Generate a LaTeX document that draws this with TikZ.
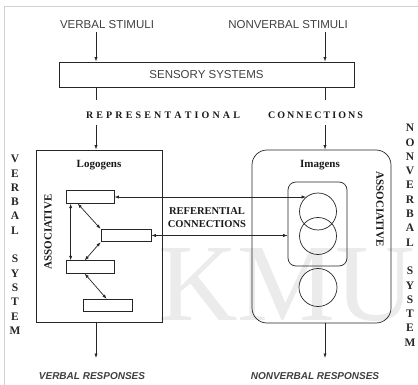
\documentclass[tikz,border=0pt]{standalone}
\usepackage{fontspec}
\setmainfont{Liberation Serif}
\setsansfont{Liberation Sans}
\usetikzlibrary{arrows.meta}
\begin{document}
\begin{tikzpicture}[x=1pt,y=-1pt,
  ln/.style={line width=0.7pt, draw=black!85},
  arr/.style={ln,-{Latex[length=4.5pt,width=3.2pt]}},
  darr/.style={ln,{Latex[length=4.5pt,width=3.2pt]}-{Latex[length=4.5pt,width=3.2pt]}},
  sanstxt/.style={font=\sffamily\fontsize{11.5}{13}\selectfont, text=black!75, inner sep=1pt},
  resp/.style={font=\sffamily\bfseries\itshape\fontsize{10}{12}\selectfont, text=black!75, inner sep=1pt},
  serbold/.style={font=\bfseries\fontsize{10}{12}\selectfont, text=black!90, inner sep=1pt},
  titletxt/.style={font=\bfseries\fontsize{11}{13}\selectfont, text=black!90, inner sep=1pt},
  smallbox/.style={ln, draw, rectangle, inner sep=0pt, minimum width=48pt, minimum height=12.5pt},
  circ/.style={ln, draw, circle, inner sep=0pt, minimum size=37pt},
  vletter/.style={font=\bfseries\fontsize{11.5}{12}\selectfont, text=black!85, inner sep=0pt}
]
\useasboundingbox (0,0) rectangle (418,385);
\fill[white] (0,0) rectangle (418,385);
\draw[black!18, line width=0.9pt] (4,385) -- (4,6) -- (418,6);
% watermark
\node[font=\fontsize{110}{110}\selectfont, text=black!8, anchor=base west, inner sep=0pt] (wm) at (158,320) {KMU};

\coordinate (vx) at (96,0);
\coordinate (nx) at (325,0);

% top texts
\node[sanstxt] (vs) at (107,25) {VERBAL STIMULI};
\node[sanstxt] (nvs) at (288,25) {NONVERBAL STIMULI};
\node[ln, draw, rectangle, minimum width=295pt, minimum height=25pt, inner sep=0pt, sanstxt] (ss) at (206.5,74.5) {SENSORY SYSTEMS};

\draw[arr, shorten <=2pt] (vs.south -| vx) -- (ss.north -| vx);
\draw[arr, shorten <=2pt] (nvs.south -| nx) -- (ss.north -| nx);

\node[serbold] (rep) at (163,115) {\makebox[154pt][s]{R\hfill E\hfill P\hfill R\hfill E\hfill S\hfill E\hfill N\hfill T\hfill A\hfill T\hfill I\hfill O\hfill N\hfill A\hfill L}};
\node[serbold] (con) at (315.5,115) {\makebox[95pt][s]{C\hfill O\hfill N\hfill N\hfill E\hfill C\hfill T\hfill I\hfill O\hfill N\hfill S}};

\coordinate (v1) at (96,100);
\coordinate (v2) at (96,125);
\coordinate (n1) at (325,100);
\coordinate (n2) at (325,125);

% systems
\node[ln, draw, rectangle, minimum width=126pt, minimum height=172pt, inner sep=0pt] (lb) at (99,236) {};
\node[ln, draw, rectangle, rounded corners=15pt, minimum width=139pt, minimum height=173pt, inner sep=0pt] (rb) at (321.5,236.5) {};

\draw[ln] (ss.south -| vx) -- (v1);
\draw[arr] (v2) -- (lb.north -| vx);
\draw[ln] (ss.south -| nx) -- (n1);
\draw[arr] (n2) -- (rb.north -| nx);

\node[titletxt] (logo) at (99,165) {Logogens};
\node[titletxt] (imag) at (320,165) {Imagens};

\node[titletxt, rotate=90] (asl) at (48,232) {ASSOCIATIVE};
\node[titletxt, rotate=-90] (asr) at (380,209) {ASSOCIATIVE};

% logogen boxes
\node[smallbox] (r1) at (90,197) {};
\node[smallbox, minimum width=50pt] (r2) at (126,235.5) {};
\node[smallbox] (r3) at (90,267) {};
\node[smallbox, minimum width=49pt] (r4) at (107.5,305.5) {};

\draw[darr] ([xshift=5pt]r1.south west) -- ([xshift=5pt]r3.north west);
\draw[darr] ([xshift=12pt]r1.south west) -- (r2.north west);
\draw[darr] (r2.south west) -- ([xshift=19pt]r3.north west);
\draw[darr] ([xshift=19pt]r3.south west) -- ([xshift=24pt]r4.north west);

% imagens
\node[ln, draw, rectangle, rounded corners=8pt, minimum width=59pt, minimum height=84pt, inner sep=0pt] (ir) at (317.5,224) {};
\node[circ] (c1) at (318,211.5) {};
\node[circ] (c2) at (318,236) {};
\node[circ, minimum size=38pt] (c3) at (318,287.5) {};

% referential
\draw[darr] (r1.east) -- (r1.east -| c1.129);
\draw[darr] (r2.east) -- (r2.east -| ir.west);
\node[serbold, align=center, font=\bfseries\fontsize{10.5}{13}\selectfont] (ref) at (207,217.5) {REFERENTIAL\\CONNECTIONS};

% bottom
\node[resp] (vr) at (92,376) {VERBAL RESPONSES};
\node[resp] (nvr) at (315,376) {NONVERBAL RESPONSES};
\coordinate (ve) at (96,358);
\coordinate (ne) at (325,358);
\draw[arr] (lb.south -| vx) -- (ve);
\draw[arr] (rb.south -| nx) -- (ne);

% vertical labels
\foreach \l [count=\i] in {V,E,R,B,A,L,{},S,Y,S,T,E,M}
  \node[vletter] (vl\i) at (15,{159+(\i-1)*14.3}) {\l};
\foreach \l [count=\i] in {N,O,N,V,E,R,B,A,L,{},S,Y,S,T,E,M}
  \node[vletter] (nl\i) at (410,{128+(\i-1)*14.3}) {\l};
\end{tikzpicture}
\end{document}
